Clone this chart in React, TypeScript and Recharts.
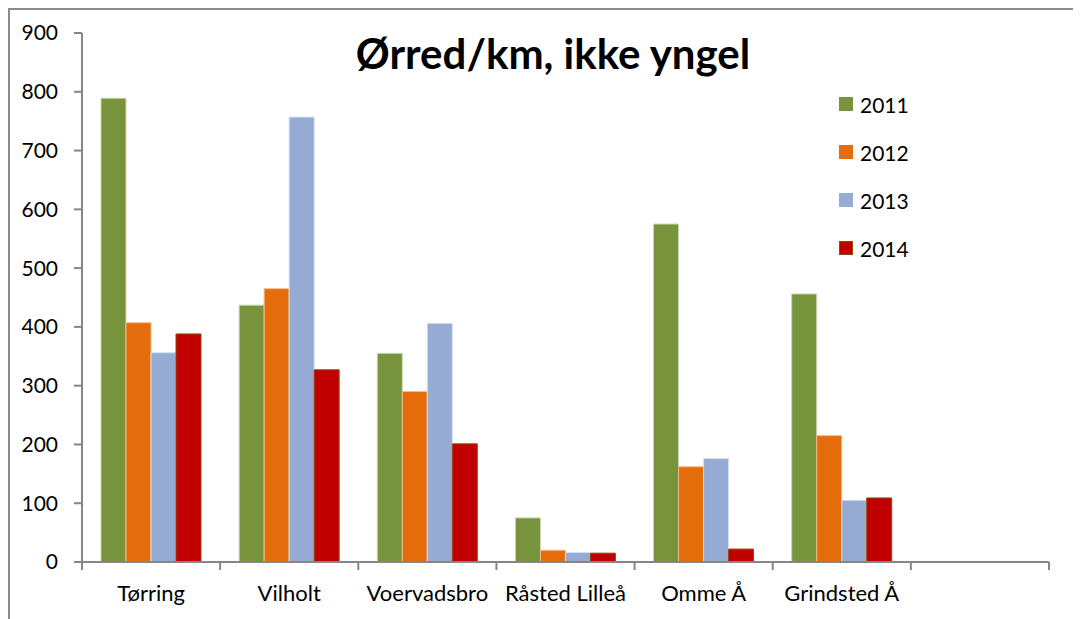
import { BarChart, Bar, XAxis, YAxis } from "recharts";

const categories = ["Tørring", "Vilholt", "Voervadsbro", "Råsted Lilleå", "Omme Å", "Grindsted Å", ""];
const years = ["2011", "2012", "2013", "2014"];
const v2011 = [789, 437, 355, 75, 575, 456, null];
const v2012 = [407, 465, 290, 20, 162, 215, null];
const v2013 = [356, 757, 406, 16, 176, 105, null];
const v2014 = [388, 327, 201, 15, 22, 109, null];
const yTicks = [0, 100, 200, 300, 400, 500, 600, 700, 800, 900];

const colors = ["#77933C", "#E46C0A", "#95ABD3", "#C00000"];
const strokes = ["#c9d6b0", "#f3b98a", "#d5deee", "#984807"];

const data = categories.map((name, i) => ({
  name,
  "2011": v2011[i],
  "2012": v2012[i],
  "2013": v2013[i],
  "2014": v2014[i],
}));

const W = 1071;
const H = 611;
const LEFT = 72;
const RIGHT = 32;
const STEP = (W - LEFT - RIGHT) / categories.length;
const FONT = "Lato, 'Liberation Sans', sans-serif";

// category labels in the middle, tick marks on the band edges
const XTick = (props: any) => {
  const { x, y, payload, index } = props;
  const half = STEP / 2;
  return (
    <g>
      <line x1={x - half} y1={y} x2={x - half} y2={y + 8} stroke="#868686" strokeWidth={2} />
      {index === categories.length - 1 && (
        <line x1={x + half} y1={y} x2={x + half} y2={y + 8} stroke="#868686" strokeWidth={2} />
      )}
      <text x={x} y={y + 39} textAnchor="middle" fontSize={22} fill="#000" fontFamily={FONT}>
        {payload.value}
      </text>
    </g>
  );
};

const LegendBox = () => (
  <div
    style={{
      position: "absolute",
      left: 831,
      top: 72,
      fontFamily: FONT,
      fontSize: 21,
      color: "#000",
    }}
  >
    {years.map((y, i) => (
      <div key={y} style={{ display: "flex", alignItems: "center", height: 48 }}>
        <span
          style={{
            width: 14,
            height: 14,
            background: colors[i],
            border: i === 3 ? `1px solid ${strokes[3]}` : "none",
            marginRight: 7,
            boxSizing: "border-box",
          }}
        />
        {y}
      </div>
    ))}
  </div>
);

export default function App() {
  return (
    <div
      style={{
        position: "relative",
        width: W + 10,
        height: H + 10,
        background: "#fff",
      }}
    >
      {/* frame lines of the chart area, top and left only */}
      <div style={{ position: "absolute", left: 0, top: 0, width: W + 10, height: 2, background: "#8c8c8c", zIndex: 5 }} />
      <div style={{ position: "absolute", left: 0, top: 0, width: 2, height: H + 10, background: "#8c8c8c", zIndex: 5 }} />
      <div
        style={{
          position: "absolute",
          left: 0,
          top: 20,
          width: 1090,
          textAlign: "center",
          fontFamily: FONT,
          fontWeight: 700,
          fontSize: 42,
          color: "#000",
        }}
      >
        Ørred/km, ikke yngel
      </div>
      <LegendBox />
      <div style={{ position: "absolute", left: 2, top: 0 }}>
        <BarChart
          width={W}
          height={H}
          data={data}
          margin={{ top: 25, right: RIGHT, left: 0, bottom: 27 }}
          barCategoryGap={19}
          barGap={0}
        >
          <XAxis
            dataKey="name"
            interval={0}
            tickLine={false}
            tickSize={0}
            tickMargin={0}
            axisLine={{ stroke: "#868686", strokeWidth: 2 }}
            tick={<XTick />}
            height={30}
          />
          <YAxis
            width={LEFT}
            domain={[0, 900]}
            ticks={yTicks}
            interval={0}
            tickSize={8}
            tickMargin={16}
            axisLine={{ stroke: "#868686", strokeWidth: 2 }}
            tickLine={{ stroke: "#868686", strokeWidth: 2 }}
            tick={{ fill: "#000", fontSize: 21, fontFamily: FONT }}
          />
          {years.map((y, i) => (
            <Bar
              key={y}
              dataKey={y}
              fill={colors[i]}
              stroke={strokes[i]}
              strokeWidth={1}
              isAnimationActive={false}
            />
          ))}
        </BarChart>
      </div>
    </div>
  );
}
